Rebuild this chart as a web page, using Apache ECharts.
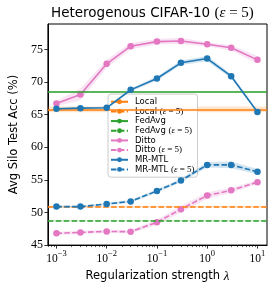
<!DOCTYPE html>
<html><head><meta charset="utf-8">
<script src="https://cdn.jsdelivr.net/npm/echarts@6/dist/echarts.min.js"></script>
<style>html,body{margin:0;padding:0;background:#fff}#c{width:274px;height:288px}</style>
</head><body><div id="c"></div>
<script>
// regularization strengths
const lambdas = [0.001, 0.003, 0.01, 0.03, 0.1, 0.3, 1, 3, 10];
// accuracies (%)
const dittoAcc      = [66.7, 68.1, 72.8, 75.5, 76.2, 76.3, 75.8, 75.25, 73.4];
const dittoStd      = [0.4, 0.9, 0.6, 0.5, 0.4, 0.5, 0.3, 0.4, 0.6];
const dittoDpAcc    = [46.8, 46.95, 47.1, 47.05, 48.5, 50.5, 52.6, 53.4, 54.65];
const dittoDpStd    = [0.25, 0.25, 0.25, 0.25, 0.4, 0.5, 0.5, 0.4, 0.3];
const mrmtlAcc      = [65.9, 66.0, 66.05, 68.8, 70.55, 72.95, 73.6, 70.9, 65.4];
const mrmtlStd      = [0.15, 0.15, 0.15, 0.25, 0.3, 0.35, 0.4, 0.3, 0.2];
const mrmtlDpAcc    = [50.9, 50.9, 51.3, 51.7, 53.3, 54.9, 57.3, 57.3, 56.25];
const mrmtlDpStd    = [0.15, 0.15, 0.15, 0.2, 0.25, 0.25, 0.4, 0.5, 0.4];
const localAcc = 65.8, localStd = 0.45;
const localDpAcc = 50.87, localDpStd = 0.15;
const fedavgAcc = 68.5, fedavgStd = 0.1;
const fedavgDpAcc = 48.75, fedavgDpStd = 0.15;
// axis ticks
const xTickExps = [-3, -2, -1, 0, 1];
const yTicks = [45, 50, 55, 60, 65, 70, 75];

const C = {orange:'#ff7f0e', green:'#2ca02c', pink:'#e377c2', blue:'#1f77b4'};
const serif = 'Liberation Serif';
const sans = 'DejaVu Sans';
const dash = [5.5, 2.4];
const xs = lambdas.map(v => Math.log10(v));
const minor = [];
for (let e = -4; e <= 1; e++) for (let m = 2; m <= 9; m++) minor.push(Math.log10(m * Math.pow(10, e)));
const xMin = -3.17, xMax = 1.19;
const minorIn = minor.filter(v => v > xMin && v < xMax);

function pair(arr) { return arr.map((v, i) => [xs[i], v]); }

function band(name, vals, std, color, z) {
  return {
    type:'custom', name: 'band_' + name, silent: true, z: z,
    data: vals.map((v, i) => [xs[i], v - std[i], v + std[i]]),
    encode: {x: 0, y: [1, 2]},
    renderItem: function (params, api) {
      if (params.dataIndexInside !== 0) return null;
      const n = params.dataInsideLength;
      const up = [], lo = [];
      for (let i = 0; i < n; i++) {
        up.push(api.coord([api.value(0, i), api.value(2, i)]));
        lo.push(api.coord([api.value(0, i), api.value(1, i)]));
      }
      const pts = up.concat(lo.reverse());
      return {type:'polygon', shape:{points: pts}, style:{fill: color, opacity: 0.2}, silent: true};
    }
  };
}

function markedSeries(name, vals, std, color, dashed, z) {
  return [
    band(name, vals, std, color, z),
    {type:'line', name: name, data: pair(vals), symbol:'circle', symbolSize:6.5,
      itemStyle:{color: color}, lineStyle:{color: color, width:1.6, type: dashed ? dash : 'solid'},
      z: z + 1}
  ];
}
function hline(name, val, std, color, dashed) {
  return {type:'line', name: name, data: [], symbol:'none',
    itemStyle:{color: color}, lineStyle:{color: color, width:1.6, type: dashed ? dash : 'solid'},
    markLine:{silent:true, symbol:'none', label:{show:false}, animation:false,
      lineStyle:{color: color, width:1.6, type: dashed ? dash : 'solid'}, data:[{yAxis: val}]},
    markArea:{silent:true, itemStyle:{color: color, opacity:0.2}, data:[[{yAxis: val - std}, {yAxis: val + std}]]},
    z: 2};
}

const series = [
  hline('Local', localAcc, localStd, C.orange, false),
  hline('Local (ε = 5)', localDpAcc, localDpStd, C.orange, true),
  hline('FedAvg', fedavgAcc, fedavgStd, C.green, false),
  hline('FedAvg (ε = 5)', fedavgDpAcc, fedavgDpStd, C.green, true),
  ...markedSeries('Ditto', dittoAcc, dittoStd, C.pink, false, 3),
  ...markedSeries('Ditto (ε = 5)', dittoDpAcc, dittoDpStd, C.pink, true, 3),
  ...markedSeries('MR-MTL', mrmtlAcc, mrmtlStd, C.blue, false, 5),
  ...markedSeries('MR-MTL (ε = 5)', mrmtlDpAcc, mrmtlDpStd, C.blue, true, 5),
];

const epsRich = {
  s: {fontFamily: serif, fontSize: 9, color:'#000', lineHeight: 9.5},
  e: {fontFamily: serif, fontStyle:'italic', fontSize: 9, color:'#000', lineHeight: 9.5}
};

const chart = echarts.init(document.getElementById('c'), null, {renderer:'canvas'});
chart.setOption({
  animation: false,
  title: {
    text: 'Heterogenous CIFAR-10 {s|(}{e|ε}{s| = 5)}',
    left: 46, top: 1,
    textStyle: {fontFamily: sans, fontSize: 13.5, fontWeight:'normal', color:'#000',
      rich: {s:{fontFamily: serif, fontSize: 15, color:'#000'}, e:{fontFamily: serif, fontStyle:'italic', fontSize: 15, color:'#000'}}}
  },
  grid: {left: 43, right: 7, top: 24, bottom: 41, show: true, borderColor:'#000', borderWidth: 1, backgroundColor:'transparent'},
  legend: {
    orient:'vertical', left: 108, top: 94,
    data: ['Local','Local (ε = 5)','FedAvg','FedAvg (ε = 5)','Ditto','Ditto (ε = 5)','MR-MTL','MR-MTL (ε = 5)'],
    itemWidth: 17, itemHeight: 6, itemGap: 0.17,
    padding: [3, 3, 3, 2],
    backgroundColor:'rgba(255,255,255,0.8)', borderColor:'#cccccc', borderWidth: 1, borderRadius: 3,
    formatter: n => n.replace(' (ε = 5)', ' {s|(}{e|ε}{s| = 5)}'),
    textStyle: {fontFamily: sans, fontSize: 8.5, color:'#000', lineHeight: 9.5, padding:[0,0,0,2], rich: epsRich}
  },
  xAxis: [{
    type:'value', min: xMin, max: xMax,
    name: 'Regularization strength {l|λ}', nameLocation:'middle', nameGap: 22,
    nameTextStyle: {fontFamily: sans, fontSize: 11.5, color:'#000',
      rich:{l:{fontFamily: serif, fontStyle:'italic', fontSize: 13, color:'#000'}}},
    axisLine:{show:true, onZero:false, lineStyle:{color:'#000', width:1}},
    axisTick:{show:true, length:3.5, lineStyle:{color:'#000', width:0.8}, customValues: xTickExps},
    axisLabel:{customValues: xTickExps, margin: 4, color:'#000',
      formatter: v => '{b|10}{p|' + (v < 0 ? '−' + (-v) : v) + '}',
      rich:{b:{fontFamily: serif, fontSize: 11.5, color:'#000', padding:[4,0,0,0]},
            p:{fontFamily: serif, fontSize: 8.5, color:'#000', verticalAlign:'top', padding:[0,0,4,0]}}},
    splitLine:{show:false}
  },{
    type:'value', min: xMin, max: xMax, position:'bottom',
    axisLine:{show:false, onZero:false},
    axisTick:{show:true, length:2, lineStyle:{color:'#000', width:0.6}, customValues: minorIn},
    axisLabel:{show:false}, splitLine:{show:false}
  }],
  yAxis: {
    type:'value', min: 45, max: 78.9,
    name: 'Avg Silo Test Acc (%)', nameLocation:'middle', nameGap: 27,
    nameTextStyle: {fontFamily: sans, fontSize: 11.5, color:'#000'},
    axisLine:{show:true, onZero:false, lineStyle:{color:'#000', width:1}},
    axisTick:{show:true, length:3.5, lineStyle:{color:'#000', width:0.8}, customValues: yTicks},
    axisLabel:{customValues: yTicks, margin: 5, color:'#000', fontFamily: serif, fontSize: 12},
    splitLine:{show:false}
  },
  series: series
});
</script></body></html>
